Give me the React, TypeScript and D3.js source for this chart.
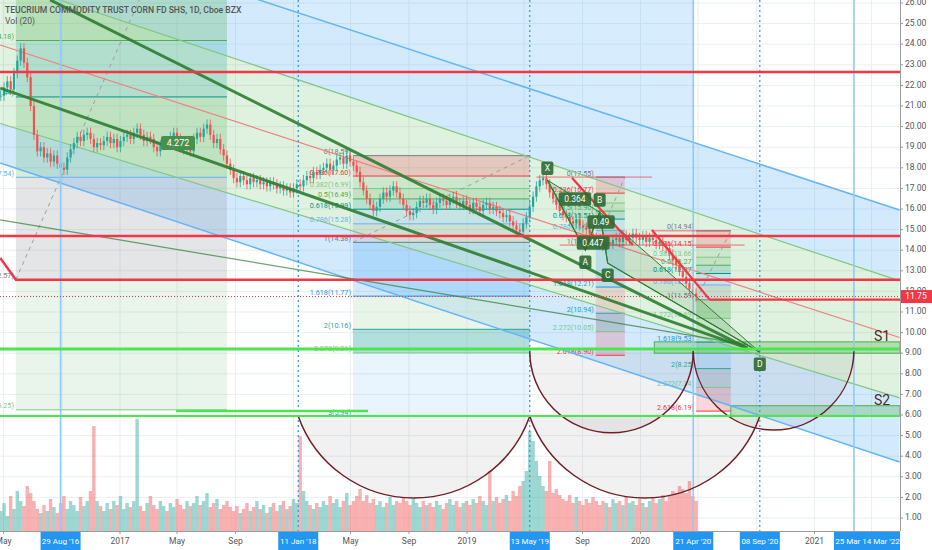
import React from 'react';
import * as d3 from 'd3';

const FONT = "Roboto, 'Liberation Sans', Arial, sans-serif";
const TITLE = 'TEUCRIUM COMMODITY TRUST CORN FD SHS, 1D, Cboe BZX';
const VOL_TITLE = 'Vol (20)';

// ---------- axes ----------
const priceTicks = [1, 2, 3, 4, 5, 6, 7, 8, 9, 10, 11, 12, 13, 14, 15, 16, 17, 18, 19, 20, 21, 22, 23, 24, 25, 26];
const timeTicks: [string, string][] = [
  ['2016-05-01', 'May'], ['2017-01-01', '2017'], ['2017-05-01', 'May'], ['2017-09-01', 'Sep'],
  ['2018-05-01', 'May'], ['2018-09-01', 'Sep'], ['2019-01-01', '2019'], ['2019-09-01', 'Sep'],
  ['2020-01-01', '2020'], ['2021-01-01', '2021'],
];
const gridDates = ['2016-05-01', '2016-09-01', '2017-01-01', '2017-05-01', '2017-09-01', '2018-01-01', '2018-05-01',
  '2018-09-01', '2019-01-01', '2019-05-01', '2019-09-01', '2020-01-01', '2020-05-01', '2020-09-01', '2021-01-01', '2021-05-01'];
const markerDates = ['2016-08-29', '2018-01-11', '2019-05-13', '2020-04-21', '2020-09-08', '2021-03-25'];
const markerLabels = ["29 Aug '16", "11 Jan '18", "13 May '19", "21 Apr '20", "08 Sep '20", "25 Mar '21"];
const markerStyles = ['solid', 'dotted', 'dotted', 'solid', 'dotted', 'solid'];
const extraMarkerLabel = "14 Mar '22";
const lastPrice = 11.75;

// ---------- price series (weekly closes) ----------
const candleStart = '2016-04-25';
const closes = [
  21.5, 21.9, 22.2, 21.8, 22.6, 23.2, 23.8, 23.1, 22.4, 21.0,
  19.6, 18.8, 19.0, 18.5, 18.7, 18.3, 18.6, 18.2, 18.0, 17.9,
  18.5, 18.9, 19.2, 19.5, 19.3, 19.6, 19.7, 19.4, 19.0, 19.2,
  19.1, 19.3, 19.5, 19.2, 19.4, 19.0, 19.3, 19.5, 19.6, 19.4,
  19.7, 19.9, 19.6, 19.3, 19.5, 19.4, 19.0, 18.8, 19.1, 19.3,
  19.2, 19.5, 19.7, 19.4, 19.1, 18.9, 19.3, 18.8, 19.4, 19.7,
  19.5, 19.9, 20.1, 19.6, 19.2, 19.4, 18.9, 18.6, 18.2, 17.9,
  17.5, 17.3, 17.6, 17.4, 17.2, 17.5, 17.3, 17.4, 17.2, 17.3,
  17.1, 17.3, 17.2, 17.0, 17.1, 16.9, 17.0, 16.8, 17.0, 17.2,
  17.1, 17.4, 17.6, 17.5, 17.8, 17.7, 17.9, 18.0, 18.2, 17.9,
  18.1, 18.4, 18.5, 18.2, 18.6, 18.3, 18.1, 17.8, 17.3, 16.9,
  16.5, 16.2, 15.9, 16.1, 16.5, 16.8, 16.6, 16.9, 17.1, 16.8,
  16.5, 16.2, 15.9, 15.7, 15.8, 16.1, 16.4, 16.3, 16.5, 16.2,
  16.0, 16.3, 16.5, 16.4, 16.2, 16.5, 16.6, 16.3, 16.2, 16.4,
  16.2, 16.0, 16.3, 16.1, 15.9, 16.2, 16.3, 16.0, 16.1, 15.9,
  15.8, 15.6, 15.7, 15.4, 15.2, 15.0, 14.9, 15.3, 15.6, 16.1,
  16.6, 17.1, 17.4, 17.5, 17.2, 16.8, 16.5, 16.2, 15.9, 15.7,
  15.6, 15.4, 15.3, 15.5, 15.2, 15.1, 15.0, 14.8, 14.6, 14.4,
  14.3, 14.2, 14.4, 14.3, 14.5, 14.6, 14.4, 14.7, 14.5, 14.6,
  14.8, 14.6, 14.5, 14.7, 14.4, 14.6, 14.5, 14.3, 14.4, 14.2,
  14.1, 13.8, 13.5, 13.3, 13.0, 12.7, 12.4, 12.1, 11.9, 11.75,
];
const volumes = [
  20, 28, 15, 35, 22, 40, 30, 25, 45, 38,
  30, 22, 18, 26, 20, 32, 24, 18, 28, 35,
  22, 30, 26, 20, 34, 25, 30, 40, 105, 30,
  25, 20, 28, 22, 30, 26, 35, 22, 28, 24,
  30, 112, 25, 20, 28, 35, 26, 22, 30, 25,
  20, 28, 24, 32, 26, 22, 30, 25, 28, 35,
  26, 30, 38, 24, 28, 32, 22, 26, 30, 24,
  20, 25, 18, 22, 28, 20, 24, 30, 22, 26,
  18, 24, 28, 20, 26, 30, 22, 25, 32, 28,
  95, 40, 30, 26, 22, 28, 24, 30, 26, 35,
  28, 32, 24, 30, 38, 26, 30, 35, 42, 30,
  36, 28, 32, 26, 30, 24, 28, 34, 26, 30,
  28, 34, 30, 26, 32, 28, 24, 30, 26, 28,
  24, 30, 26, 22, 28, 32, 26, 30, 24, 28,
  30, 26, 32, 28, 35, 30, 26, 60, 30, 34,
  28, 32, 36, 30, 40, 35, 45, 50, 60, 100,
  90, 70, 55, 45, 40, 70, 38, 42, 36, 32,
  30, 36, 28, 34, 30, 26, 32, 28, 34, 30,
  26, 30, 28, 24, 32, 28, 30, 26, 34, 28,
  30, 26, 32, 28, 24, 30, 34, 28, 32, 36,
  30, 35, 40, 38, 45, 42, 38, 50, 35, 30,
];

// ---------- regression channel (prices at the two anchor dates) ----------
const channelDates = ['2016-04-24', '2021-06-29'];
const blueUpper = [30.27, 15.95];
const greenUpper = [27.11, 12.51];
const channelMedian = [23.96, 9.76];
const greenLower = [20.15, 6.83];
const blueLower = [18.23, 3.72];
const upperBandDates = ['2017-08-14', '2020-04-21'];

// ---------- fib retracements ----------
const fibLeftDates = ['2016-05-27', '2017-08-14'];
const fibLeftLevels = ['0', '0.236', '0.382', '0.5', '0.618', '0.786', '1', '1.272'];
const fibLeftPrices = [35.79, 30.31, 26.92, 24.18, 21.44, 17.54, 12.57, 6.25];
const fibLeftZones = ['rgba(242,54,69,0.2)', 'rgba(129,199,132,0.2)', 'rgba(76,175,80,0.28)', 'rgba(0,150,136,0.2)',
  'rgba(76,175,80,0.22)', 'rgba(120,123,134,0.2)', 'rgba(76,175,80,0.12)'];

const fib1Dates = ['2018-05-06', '2019-05-13'];
const fib1Levels = ['0', '0.236', '0.382', '0.5', '0.618', '0.786', '1', '1.618', '2', '2.272', '3'];
const fib1Prices = [18.59, 17.60, 16.99, 16.49, 15.99, 15.28, 14.38, 11.77, 10.16, 9.01, 5.94];
const fib1Zones = ['rgba(242,54,69,0.22)', 'rgba(129,199,132,0.2)', 'rgba(76,175,80,0.2)', 'rgba(0,150,136,0.18)',
  'rgba(100,181,246,0.2)', 'rgba(120,123,134,0.15)', 'rgba(33,150,243,0.2)', 'rgba(200,230,201,0.4)',
  'rgba(0,150,136,0.3)', 'rgba(33,150,243,0.1)'];

const fib2Dates = ['2019-09-29', '2019-11-29'];
const fib2Levels = ['0', '0.236', '0.382', '0.5', '0.618', '0.786', '1', '1.618', '2', '2.272', '2.618'];
const fib2Prices = [17.55, 16.77, 16.29, 15.90, 15.51, 14.95, 14.25, 12.21, 10.94, 10.05, 8.90];
const fib2Zones = ['rgba(242,54,69,0.2)', 'rgba(129,199,132,0.2)', 'rgba(76,175,80,0.2)', 'rgba(0,150,136,0.2)',
  'rgba(100,181,246,0.2)', 'rgba(120,123,134,0.2)', 'rgba(33,150,243,0.2)', 'rgba(242,54,69,0.15)',
  'rgba(120,123,134,0.35)', 'rgba(242,54,69,0.2)'];

const fib3Dates = ['2020-04-27', '2020-07-09'];
const fib3Levels = ['0', '0.236', '0.382', '0.5', '0.618', '0.786', '1', '1.272', '1.618', '2', '2.272', '2.618'];
const fib3Prices = [14.94, 14.15, 13.66, 13.27, 12.87, 12.31, 11.59, 10.69, 9.53, 8.25, 7.34, 6.19];
const fib3Zones = ['rgba(242,54,69,0.2)', 'rgba(129,199,132,0.2)', 'rgba(76,175,80,0.2)', 'rgba(0,150,136,0.2)',
  'rgba(100,181,246,0.2)', 'rgba(120,123,134,0.2)', 'rgba(76,175,80,0.3)', 'rgba(129,199,132,0.25)',
  'rgba(33,150,243,0.15)', 'rgba(120,123,134,0.25)', 'rgba(242,54,69,0.2)'];

const levelColors: Record<string, string> = {
  '0': '#787b86', '0.236': '#f23645', '0.382': '#81c784', '0.5': '#4caf50', '0.618': '#009688',
  '0.786': '#64b5f6', '1': '#787b86', '1.272': '#81c784', '1.618': '#2196f3', '2': '#26a69a',
  '2.272': '#81c784', '2.618': '#f23645', '3': '#2196f3',
};

// ---------- horizontal levels ----------
const redLevels = [22.65, 14.69];
const redStepDates = ['2016-04-24', '2016-05-27'];
const redStepPrices = [13.62, 12.57];
const redThinDates: [string, string][] = [['2019-05-27', '2020-01-25'], ['2020-01-25', '2020-07-09'], ['2019-07-15', '2020-08-07']];
const redThinPrices = [17.55, 14.94, 14.25];
const redLegDates: [string, string][] = [['2019-08-10', '2019-12-16'], ['2020-01-25', '2020-05-26']];
const redLegPrices: [number, number][] = [[17.5, 14.25], [14.98, 11.59]];
const redTailStart = '2020-05-26';
const redTailPrice = 11.6;

const supportLevels = [9.2, 5.95];
const shortGreenDates = ['2017-04-29', '2018-06-07'];
const shortGreenPrice = 6.2;
const zoneStarts = ['2020-01-30', '2020-07-09'];
const zoneTops = [9.55, 6.45];
const zoneBottoms = [9.0, 5.95];
const zoneNames = ['S1', 'S2'];

// ---------- trend lines ----------
const trendEnd = '2020-08-13';
const trendStarts = ['2016-08-07', '2016-04-24', '2016-04-24'];
const trendStartPrices = [26.15, 21.87, 15.47];
const trendEndPrices = [9.25, 9.25, 9.4];
const trendWidths = [3, 3, 1.2];

// ---------- arcs ----------
const arcFrom = ['2018-01-11', '2019-05-13', '2019-05-13', '2020-04-21'];
const arcTo = ['2019-05-13', '2020-04-21', '2020-09-08', '2021-03-25'];
const arcBase = [5.94, 9.1, 5.94, 9.1];
const arcBottom = [1.97, 5.13, 1.97, 5.13];

// ---------- XABCD pattern ----------
const patternNames = ['X', 'A', 'B', 'C', 'D'];
const patternDates = ['2019-06-19', '2019-09-07', '2019-10-07', '2019-10-24', '2020-09-08'];
const patternPrices = [17.4, 14.0, 15.85, 13.37, 9.05];
const ratioTexts = ['0.364', '0.49', '0.447'];
const ratioDates = ['2019-08-16', '2019-10-10', '2019-09-23'];
const ratioPrices = [16.48, 15.37, 14.35];
const projLabel = '4.272';
const projDate = '2017-05-03';
const projPrice = 19.2;

const D = (s: string) => new Date(s + 'T00:00:00Z');

export default function App() {
  const PR = 900;
  const PB = 531;
  const x = d3.scaleUtc().domain([D('2017-01-01'), D('2019-01-01')]).range([120, 467]);
  const y = d3.scaleLinear().domain([1, 26]).range([518, 3]);
  const X = (s: string) => x(D(s));
  const f2 = d3.format('.2f');

  const chX0 = X(channelDates[0]);
  const chX1 = X(channelDates[1]);
  const bandPoly = (a: number[], b: number[]) =>
    `${chX0},${y(a[0])} ${chX1},${y(a[1])} ${chX1},${y(b[1])} ${chX0},${y(b[0])}`;
  const lineAt = (arr: number[], px: number) => {
    const t = (px - chX0) / (chX1 - chX0);
    return y(arr[0]) + t * (y(arr[1]) - y(arr[0]));
  };

  const ub0 = X(upperBandDates[0]);
  const ub1 = X(upperBandDates[1]);
  const upperBand = `${ub0},0 ${ub1},0 ${ub1},${lineAt(blueUpper, ub1)} ${ub0},${lineAt(blueUpper, ub0)}`;

  const candles = closes.map((c, i) => {
    const date = d3.utcDay.offset(D(candleStart), 7 * i);
    const o = i === 0 ? c : closes[i - 1];
    return { date, o, c, h: Math.max(o, c) + 0.25, l: Math.min(o, c) - 0.25, v: volumes[i], up: c >= o };
  });
  const vH = d3.scaleLinear().domain([0, 130]).range([0, 130]);

  const renderFib = (dates: string[], levels: string[], prices: number[], zones: string[], key: string) => {
    const x0 = X(dates[0]);
    const x1 = X(dates[1]);
    return (
      <g key={key}>
        {zones.map((z, i) => (
          <rect key={'z' + i} x={x0} y={y(prices[i])} width={x1 - x0} height={y(prices[i + 1]) - y(prices[i])} fill={z} />
        ))}
        {levels.map((lv, i) => (
          <g key={'l' + i}>
            <line x1={x0} x2={x1} y1={y(prices[i])} y2={y(prices[i])} stroke={levelColors[lv]} strokeWidth={1} />
            <text x={x0 - 2} y={y(prices[i]) - 1.5} textAnchor="end" fontSize={7.2} fill={levelColors[lv]}>
              {`${lv}(${f2(prices[i])})`}
            </text>
          </g>
        ))}
        <line x1={x0} y1={y(prices[levels.indexOf('1')])} x2={x1} y2={y(prices[0])} stroke="#9e9e9e" strokeDasharray="4,4" strokeWidth={1} />
      </g>
    );
  };

  const arcPath = (i: number) => {
    const a = X(arcFrom[i]);
    const b = X(arcTo[i]);
    const yb = y(arcBase[i]);
    const h = y(arcBottom[i]) - yb;
    const half = (b - a) / 2;
    const r = (half * half + h * h) / (2 * h);
    return `M${a},${yb} A${r},${r} 0 0 0 ${b},${yb} Z`;
  };

  const labelBox = (cx: number, cy: number, text: string, bg: string, key: string, fs = 8) => {
    const w = text.length * fs * 0.6 + 7;
    const hh = fs + 5;
    return (
      <g key={key}>
        <rect x={cx - w / 2} y={cy - hh / 2} width={w} height={hh} rx={2} fill={bg} />
        <text x={cx} y={cy + 0.5} textAnchor="middle" dominantBaseline="middle" fontSize={fs} fill="#fff">{text}</text>
      </g>
    );
  };

  const pPts = patternDates.map((d, i) => [X(d), y(patternPrices[i])]);

  return (
    <div style={{ position: 'absolute', left: 0, top: 0 }}>
      <svg width={932} height={550} style={{ display: 'block', fontFamily: FONT }}>
        <defs>
          <clipPath id="plotClip"><rect x={0} y={0} width={PR} height={PB} /></clipPath>
        </defs>
        <rect x={0} y={0} width={932} height={550} fill="#ffffff" />
        <g clipPath="url(#plotClip)">
          {/* grid */}
          {priceTicks.map((p) => (
            <line key={'gh' + p} x1={0} x2={PR} y1={y(p)} y2={y(p)} stroke="#e9eff3" strokeWidth={1} />
          ))}
          {gridDates.map((d) => (
            <line key={'gv' + d} x1={X(d)} x2={X(d)} y1={0} y2={PB} stroke="#e9eff3" strokeWidth={1} />
          ))}

          {/* channel bands */}
          <polygon points={upperBand} fill="rgba(33,150,243,0.18)" />
          <polygon points={bandPoly(blueUpper, greenUpper)} fill="rgba(33,150,243,0.2)" />
          <polygon points={bandPoly(greenUpper, greenLower)} fill="rgba(76,175,80,0.18)" />
          <polygon points={bandPoly(greenLower, blueLower)} fill="rgba(33,150,243,0.2)" />

          {/* arcs fill */}
          {arcFrom.map((_, i) => (
            <path key={'af' + i} d={arcPath(i)} fill="rgba(140,140,140,0.12)" stroke="none" />
          ))}

          {/* fibs */}
          {renderFib(fibLeftDates, fibLeftLevels, fibLeftPrices, fibLeftZones, 'fl')}
          {renderFib(fib1Dates, fib1Levels, fib1Prices, fib1Zones, 'f1')}
          {renderFib(fib2Dates, fib2Levels, fib2Prices, fib2Zones, 'f2')}
          {renderFib(fib3Dates, fib3Levels, fib3Prices, fib3Zones, 'f3')}

          {/* support zones */}
          {zoneStarts.map((d, i) => (
            <rect key={'sz' + i} x={X(d)} y={y(zoneTops[i])} width={PR - X(d)} height={y(zoneBottoms[i]) - y(zoneTops[i])}
              fill="rgba(76,175,80,0.3)" stroke="#4caf50" strokeWidth={1} />
          ))}

          {/* volume */}
          {candles.map((k, i) => (
            <rect key={'v' + i} x={x(k.date) - 1.7} y={PB - vH(k.v)} width={3.4} height={vH(k.v)}
              fill={k.up ? 'rgba(38,166,154,0.45)' : 'rgba(239,83,80,0.45)'} />
          ))}

          {/* channel lines */}
          {[blueUpper, blueLower].map((arr, i) => (
            <line key={'cb' + i} x1={chX0} y1={y(arr[0])} x2={chX1} y2={y(arr[1])} stroke="#64b5f6" strokeWidth={1.5} />
          ))}
          {[greenUpper, greenLower].map((arr, i) => (
            <line key={'cg' + i} x1={chX0} y1={y(arr[0])} x2={chX1} y2={y(arr[1])} stroke="#81c784" strokeWidth={1.2} />
          ))}
          <line x1={chX0} y1={y(channelMedian[0])} x2={chX1} y2={y(channelMedian[1])} stroke="#ef8080" strokeWidth={1.2} />

          {/* candles */}
          {candles.map((k, i) => {
            const cx = x(k.date);
            const top = y(Math.max(k.o, k.c));
            const bh = Math.max(1, y(Math.min(k.o, k.c)) - top);
            const col = k.up ? '#26a69a' : '#ef5350';
            return (
              <g key={'c' + i}>
                <line x1={cx} x2={cx} y1={y(k.h)} y2={y(k.l)} stroke={col} strokeWidth={0.8} />
                <rect x={cx - 1.1} y={top} width={2.2} height={bh} fill={col} />
              </g>
            );
          })}

          {/* vertical markers */}
          {markerDates.map((d, i) => (
            <line key={'m' + i} x1={X(d)} x2={X(d)} y1={0} y2={PB}
              stroke={markerStyles[i] === 'solid' ? '#90caf9' : '#2196f3'}
              strokeWidth={markerStyles[i] === 'solid' ? 1.6 : 1.2}
              strokeDasharray={markerStyles[i] === 'solid' ? undefined : '2,3'} />
          ))}

          {/* trend lines */}
          {trendStarts.map((d, i) => (
            <line key={'t' + i} x1={X(d)} y1={y(trendStartPrices[i])} x2={X(trendEnd)} y2={y(trendEndPrices[i])}
              stroke="#2e7d32" strokeWidth={trendWidths[i]} opacity={trendWidths[i] > 2 ? 0.9 : 0.7} />
          ))}

          {/* arcs stroke */}
          {arcFrom.map((_, i) => (
            <path key={'as' + i} d={arcPath(i).replace(' Z', '')} fill="none" stroke="#6d1f25" strokeWidth={1.5} />
          ))}

          {/* XABCD pattern */}
          <polygon points={`${pPts[0]} ${pPts[1]} ${pPts[2]}`} fill="rgba(46,125,50,0.15)" stroke="#2e7d32" strokeWidth={1} />
          <polygon points={`${pPts[2]} ${pPts[3]} ${pPts[4]}`} fill="rgba(46,125,50,0.12)" stroke="#2e7d32" strokeWidth={1} />
          <polyline points={pPts.map((p) => p.join(',')).join(' ')} fill="none" stroke="#2e7d32" strokeWidth={1.2} />

          {/* red horizontal levels */}
          {redLevels.map((p) => (
            <line key={'r' + p} x1={0} x2={PR} y1={y(p)} y2={y(p)} stroke="#f23645" strokeWidth={2.5} />
          ))}
          <polyline points={`${X(redStepDates[0])},${y(redStepPrices[0])} ${X(redStepDates[1])},${y(redStepPrices[1])} ${PR},${y(redStepPrices[1])}`}
            fill="none" stroke="#f23645" strokeWidth={2.5} />
          {redThinDates.map((dd, i) => (
            <line key={'rt' + i} x1={X(dd[0])} x2={X(dd[1])} y1={y(redThinPrices[i])} y2={y(redThinPrices[i])} stroke="#f23645" strokeWidth={1} opacity={0.7} />
          ))}
          {redLegDates.map((dd, i) => (
            <line key={'rl' + i} x1={X(dd[0])} y1={y(redLegPrices[i][0])} x2={X(dd[1])} y2={y(redLegPrices[i][1])} stroke="#f23645" strokeWidth={2.2} />
          ))}
          <line x1={X(redTailStart)} x2={PR} y1={y(redTailPrice)} y2={y(redTailPrice)} stroke="#f23645" strokeWidth={2.2} />
          <line x1={0} x2={PR} y1={y(lastPrice)} y2={y(lastPrice)} stroke="#f23645" strokeWidth={1} strokeDasharray="1,2" />

          {/* bright green supports */}
          {supportLevels.map((p, i) => (
            <line key={'s' + i} x1={0} x2={PR} y1={y(p)} y2={y(p)} stroke="#4ee44e" strokeWidth={i === 0 ? 3 : 2} />
          ))}
          <line x1={X(shortGreenDates[0])} x2={X(shortGreenDates[1])} y1={y(shortGreenPrice)} y2={y(shortGreenPrice)} stroke="#4ee44e" strokeWidth={2.5} />
          {zoneNames.map((n, i) => (
            <text key={'sn' + i} x={PR - 26} y={y(zoneTops[i]) - 1} fontSize={14} fill="#4e2a2a">{n}</text>
          ))}

          {/* labels */}
          {labelBox(X(projDate), y(projPrice), projLabel, '#4a8f4a', 'proj', 9)}
          {ratioTexts.map((t, i) => labelBox(X(ratioDates[i]), y(ratioPrices[i]), t, 'rgba(46,105,50,0.9)', 'rt' + i, 8.5))}
          {patternNames.map((n, i) =>
            labelBox(pPts[i][0], pPts[i][1] + (i % 2 === 0 && i !== 4 ? -12 : 12), n, 'rgba(46,105,50,0.9)', 'pn' + i, 8.5))}

          {/* header */}
          <text x={5} y={13} fontSize={8.6} fontWeight={500} fill="#555">{TITLE}</text>
          <text x={5} y={24} fontSize={8.6} fill="#555">{VOL_TITLE}</text>
        </g>

        {/* right axis */}
        <rect x={PR} y={0} width={32} height={550} fill="#fff" />
        <line x1={PR + 0.5} x2={PR + 0.5} y1={0} y2={PB} stroke="#9a9a9a" />
        {priceTicks.map((p) => (
          <g key={'pt' + p}>
            <line x1={PR} x2={PR + 3} y1={y(p)} y2={y(p)} stroke="#9a9a9a" />
            <text x={PR + 5} y={y(p)} dominantBaseline="middle" fontSize={8.5} fill="#555">{f2(p)}</text>
          </g>
        ))}
        <rect x={PR + 1} y={y(lastPrice) - 6.5} width={31} height={13} fill="#f23645" />
        <text x={PR + 16} y={y(lastPrice) + 0.5} textAnchor="middle" dominantBaseline="middle" fontSize={8.5} fill="#fff">{f2(lastPrice)}</text>

        {/* bottom axis */}
        <rect x={0} y={PB} width={PR} height={550 - PB} fill="#fff" />
        <line x1={0} x2={PR} y1={PB + 0.5} y2={PB + 0.5} stroke="#9a9a9a" />
        {timeTicks.map(([d, t]) => (
          <g key={'tt' + d}>
            <line x1={X(d)} x2={X(d)} y1={PB} y2={PB + 3} stroke="#9a9a9a" />
            <text x={X(d)} y={PB + 13} textAnchor="middle" fontSize={8.5} fill="#555">{t}</text>
          </g>
        ))}
        {markerDates.map((d, i) => {
          const w = 40;
          return (
            <g key={'mb' + i}>
              <rect x={X(d) - w / 2} y={PB + 1} width={w} height={18} fill="#2196f3" />
              <text x={X(d)} y={PB + 13} textAnchor="middle" fontSize={8} fill="#fff">{markerLabels[i]}</text>
            </g>
          );
        })}
        <rect x={PR - 38} y={PB + 1} width={38} height={18} fill="#2196f3" />
        <text x={PR - 19} y={PB + 13} textAnchor="middle" fontSize={8} fill="#fff">{extraMarkerLabel}</text>
      </svg>
    </div>
  );
}
